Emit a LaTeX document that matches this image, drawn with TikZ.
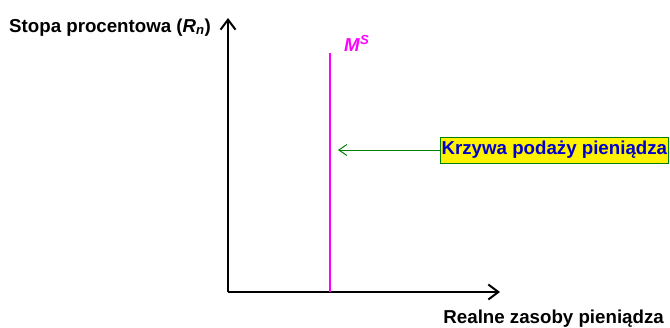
\documentclass[tikz,border=0pt]{standalone}
\usepackage{fontspec}
\setmainfont{Liberation Sans}
\usetikzlibrary{arrows.meta}
\definecolor{msmagenta}{RGB}{255,0,255}
\definecolor{notegreen}{RGB}{0,128,0}
\definecolor{noteblue}{RGB}{0,0,204}
\tikzset{
    axis/.style={line width=2.2pt, -{Straight Barb[length=10pt,width=15pt,line width=2pt]}},
    lbl/.style={inner sep=0pt, font=\fontsize{18.7}{21}\selectfont\bfseries},
    notebox/.style={lbl, fill=yellow, draw=notegreen, line width=0.8pt, text=noteblue,
        minimum height=26pt, inner xsep=1.2pt}
}
\begin{document}
\begin{tikzpicture}[x=1pt, y=-1pt]
        \useasboundingbox (0,0) rectangle (670,327);

        % Coordinate axes
        \coordinate (O) at (228,292);
        \coordinate (ytop) at (228,18);
        \coordinate (xend) at (500,292);
        \draw[axis] (O) -- (ytop);
        \draw[axis] (O) -- (xend);
        \node[lbl, anchor=base west] (ylabel) at (9,32)
            {Stopa procentowa (\textit{R}\textsubscript{\textit{n}})};
        \node[lbl, anchor=base east] (xlabel) at (664,323) {Realne zasoby pieniądza};

        % Money supply curve
        \coordinate (mstop) at (330,53);
        \coordinate (msbot) at (330,292);
        \draw[msmagenta, line width=2pt] (msbot) -- (mstop);
        \node[lbl, msmagenta, anchor=base west] (mslabel) at (344,51)
            {\textit{M}\textsuperscript{\textit{S}}};

        % Note
        \node[notebox, anchor=west] (note) at (440,150) {Krzywa podaży pieniądza};
        \coordinate (notetip) at (338,150);
        \draw[notegreen, line width=1pt, -{Straight Barb[length=8pt,width=11pt]}] (note.west) -- (notetip);
    \end{tikzpicture}
\end{document}
